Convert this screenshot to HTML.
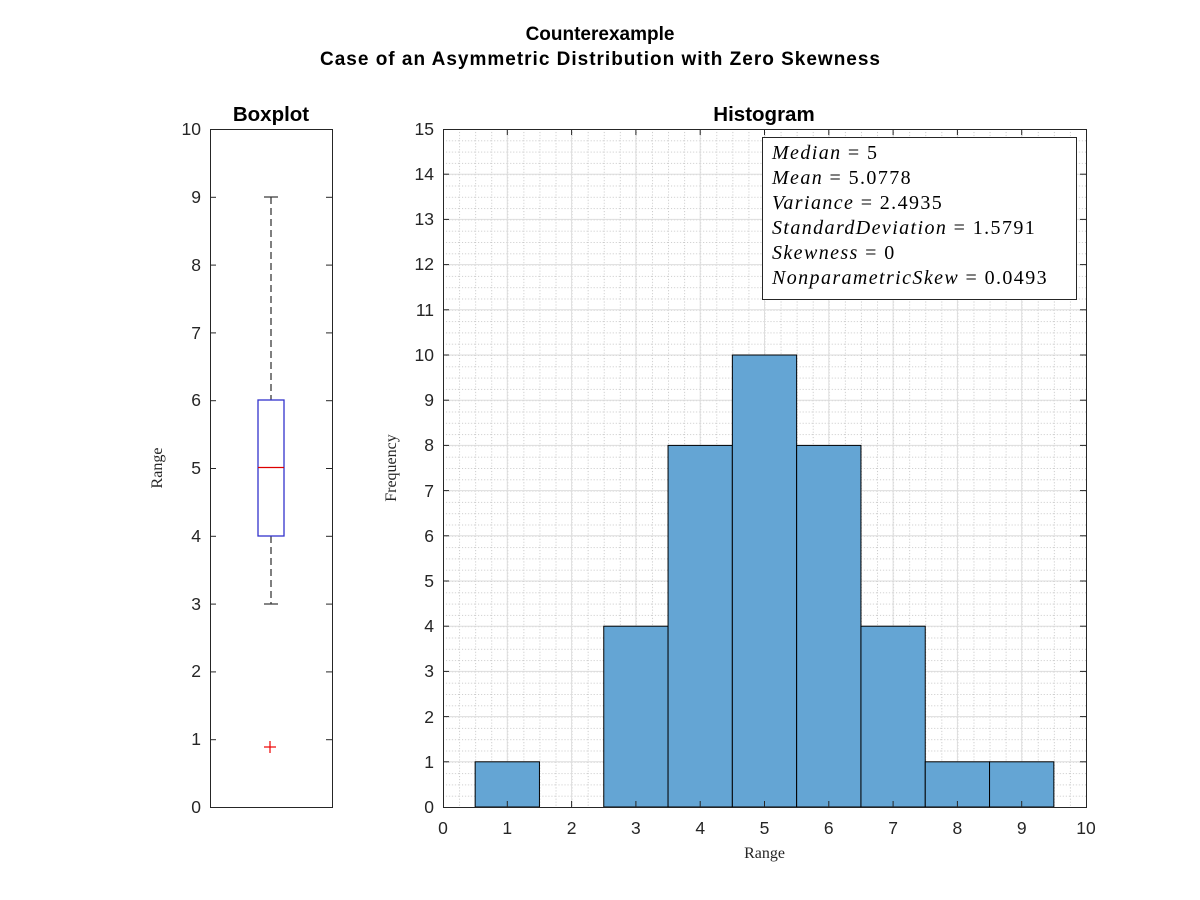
<!DOCTYPE html>
<html><head><meta charset="utf-8"><style>
body{margin:0;background:#fff}
svg{display:block}
.t{font-family:"Liberation Sans",Arial,sans-serif;font-size:17.5px;fill:#262626}
.b{font-family:"Liberation Sans",Arial,sans-serif;font-size:20.5px;font-weight:bold;fill:#000}
.s{font-family:"Liberation Serif","DejaVu Serif",serif;font-size:16px;fill:#262626}
.m{font-family:"Liberation Serif","DejaVu Serif",serif;font-size:20px;fill:#000;letter-spacing:1.4px}
</style></head><body>
<svg width="1200" height="900" xmlns="http://www.w3.org/2000/svg">
<defs>
<pattern id="mg" x="443" y="129" width="16.075" height="11.3" patternUnits="userSpaceOnUse">
<line x1="0.5" y1="0" x2="0.5" y2="11.3" stroke="#c8c8c8" stroke-width="1" stroke-dasharray="1,2"/>
<line x1="0" y1="0.5" x2="16.075" y2="0.5" stroke="#c8c8c8" stroke-width="1" stroke-dasharray="1,2"/>
</pattern>
</defs>
<text class="b" x="600" y="40" text-anchor="middle" style="font-size:19px">Counterexample</text>
<text class="b" x="600" y="65" text-anchor="middle" style="font-size:19px" textLength="560">Case of an Asymmetric Distribution with Zero Skewness</text>

<!-- Boxplot -->
<text class="b" x="271" y="121" text-anchor="middle">Boxplot</text>
<rect x="210.5" y="129.5" width="122" height="678" fill="#fff" stroke="#262626"/>
<g stroke="#262626">
<line x1="210" y1="129.5" x2="216" y2="129.5"/><line x1="326" y1="129.5" x2="332" y2="129.5"/>
<line x1="210" y1="197.3" x2="216" y2="197.3"/><line x1="326" y1="197.3" x2="332" y2="197.3"/>
<line x1="210" y1="265.1" x2="216" y2="265.1"/><line x1="326" y1="265.1" x2="332" y2="265.1"/>
<line x1="210" y1="332.9" x2="216" y2="332.9"/><line x1="326" y1="332.9" x2="332" y2="332.9"/>
<line x1="210" y1="400.7" x2="216" y2="400.7"/><line x1="326" y1="400.7" x2="332" y2="400.7"/>
<line x1="210" y1="468.5" x2="216" y2="468.5"/><line x1="326" y1="468.5" x2="332" y2="468.5"/>
<line x1="210" y1="536.3" x2="216" y2="536.3"/><line x1="326" y1="536.3" x2="332" y2="536.3"/>
<line x1="210" y1="604.1" x2="216" y2="604.1"/><line x1="326" y1="604.1" x2="332" y2="604.1"/>
<line x1="210" y1="671.9" x2="216" y2="671.9"/><line x1="326" y1="671.9" x2="332" y2="671.9"/>
<line x1="210" y1="739.7" x2="216" y2="739.7"/><line x1="326" y1="739.7" x2="332" y2="739.7"/>
</g>
<g class="t" text-anchor="end">
<text x="201" y="135">10</text><text x="201" y="203">9</text><text x="201" y="271">8</text>
<text x="201" y="339">7</text><text x="201" y="406">6</text><text x="201" y="474">5</text>
<text x="201" y="542">4</text><text x="201" y="610">3</text><text x="201" y="677">2</text>
<text x="201" y="745">1</text><text x="201" y="813">0</text>
</g>
<text class="s" transform="translate(162,468) rotate(-90)" text-anchor="middle">Range</text>
<g stroke="#555" stroke-width="1.5" stroke-dasharray="7,4">
<line x1="271" y1="197" x2="271" y2="400"/><line x1="271" y1="536" x2="271" y2="604"/>
</g>
<g stroke="#333" stroke-width="1.2">
<line x1="264" y1="197" x2="278" y2="197"/><line x1="264" y1="604" x2="278" y2="604"/>
</g>
<rect x="258" y="400" width="26" height="136" fill="none" stroke="#3333cc" stroke-width="1.3"/>
<line x1="258" y1="467.5" x2="284" y2="467.5" stroke="#d00" stroke-width="1.3"/>
<g stroke="#e00" stroke-width="1.2"><line x1="264" y1="747" x2="276" y2="747"/><line x1="270" y1="741" x2="270" y2="753"/></g>

<!-- Histogram -->
<text class="b" x="764" y="121" text-anchor="middle">Histogram</text>
<rect x="443" y="129" width="643" height="678" fill="url(#mg)"/>
<g stroke="#dedede" stroke-width="1">
<line x1="507.3" y1="129" x2="507.3" y2="807"/><line x1="571.6" y1="129" x2="571.6" y2="807"/>
<line x1="635.9" y1="129" x2="635.9" y2="807"/><line x1="700.2" y1="129" x2="700.2" y2="807"/>
<line x1="764.5" y1="129" x2="764.5" y2="807"/><line x1="828.8" y1="129" x2="828.8" y2="807"/>
<line x1="893.1" y1="129" x2="893.1" y2="807"/><line x1="957.4" y1="129" x2="957.4" y2="807"/>
<line x1="1021.7" y1="129" x2="1021.7" y2="807"/>
<line x1="443" y1="174.2" x2="1086" y2="174.2"/><line x1="443" y1="219.4" x2="1086" y2="219.4"/>
<line x1="443" y1="264.6" x2="1086" y2="264.6"/><line x1="443" y1="309.8" x2="1086" y2="309.8"/>
<line x1="443" y1="355" x2="1086" y2="355"/><line x1="443" y1="400.2" x2="1086" y2="400.2"/>
<line x1="443" y1="445.4" x2="1086" y2="445.4"/><line x1="443" y1="490.6" x2="1086" y2="490.6"/>
<line x1="443" y1="535.8" x2="1086" y2="535.8"/><line x1="443" y1="581" x2="1086" y2="581"/>
<line x1="443" y1="626.2" x2="1086" y2="626.2"/><line x1="443" y1="671.4" x2="1086" y2="671.4"/>
<line x1="443" y1="716.6" x2="1086" y2="716.6"/><line x1="443" y1="761.8" x2="1086" y2="761.8"/>
</g>
<g fill="#64a5d4" stroke="#000" stroke-width="1">
<rect x="475.15" y="761.8" width="64.3" height="45.2"/>
<rect x="603.75" y="626.2" width="64.3" height="180.8"/>
<rect x="668.05" y="445.4" width="64.3" height="361.6"/>
<rect x="732.35" y="355" width="64.3" height="452"/>
<rect x="796.65" y="445.4" width="64.3" height="361.6"/>
<rect x="860.95" y="626.2" width="64.3" height="180.8"/>
<rect x="925.25" y="761.8" width="64.3" height="45.2"/>
<rect x="989.55" y="761.8" width="64.3" height="45.2"/>
</g>
<rect x="443.5" y="129.5" width="643" height="678" fill="none" stroke="#262626"/>
<g stroke="#262626">
<line x1="507.3" y1="807" x2="507.3" y2="801"/><line x1="507.3" y1="129" x2="507.3" y2="135"/>
<line x1="571.6" y1="807" x2="571.6" y2="801"/><line x1="571.6" y1="129" x2="571.6" y2="135"/>
<line x1="635.9" y1="807" x2="635.9" y2="801"/><line x1="635.9" y1="129" x2="635.9" y2="135"/>
<line x1="700.2" y1="807" x2="700.2" y2="801"/><line x1="700.2" y1="129" x2="700.2" y2="135"/>
<line x1="764.5" y1="807" x2="764.5" y2="801"/><line x1="764.5" y1="129" x2="764.5" y2="135"/>
<line x1="828.8" y1="807" x2="828.8" y2="801"/><line x1="828.8" y1="129" x2="828.8" y2="135"/>
<line x1="893.1" y1="807" x2="893.1" y2="801"/><line x1="893.1" y1="129" x2="893.1" y2="135"/>
<line x1="957.4" y1="807" x2="957.4" y2="801"/><line x1="957.4" y1="129" x2="957.4" y2="135"/>
<line x1="1021.7" y1="807" x2="1021.7" y2="801"/><line x1="1021.7" y1="129" x2="1021.7" y2="135"/>
<line x1="443" y1="174.2" x2="449" y2="174.2"/><line x1="1080" y1="174.2" x2="1086" y2="174.2"/>
<line x1="443" y1="219.4" x2="449" y2="219.4"/><line x1="1080" y1="219.4" x2="1086" y2="219.4"/>
<line x1="443" y1="264.6" x2="449" y2="264.6"/><line x1="1080" y1="264.6" x2="1086" y2="264.6"/>
<line x1="443" y1="309.8" x2="449" y2="309.8"/><line x1="1080" y1="309.8" x2="1086" y2="309.8"/>
<line x1="443" y1="355" x2="449" y2="355"/><line x1="1080" y1="355" x2="1086" y2="355"/>
<line x1="443" y1="400.2" x2="449" y2="400.2"/><line x1="1080" y1="400.2" x2="1086" y2="400.2"/>
<line x1="443" y1="445.4" x2="449" y2="445.4"/><line x1="1080" y1="445.4" x2="1086" y2="445.4"/>
<line x1="443" y1="490.6" x2="449" y2="490.6"/><line x1="1080" y1="490.6" x2="1086" y2="490.6"/>
<line x1="443" y1="535.8" x2="449" y2="535.8"/><line x1="1080" y1="535.8" x2="1086" y2="535.8"/>
<line x1="443" y1="581" x2="449" y2="581"/><line x1="1080" y1="581" x2="1086" y2="581"/>
<line x1="443" y1="626.2" x2="449" y2="626.2"/><line x1="1080" y1="626.2" x2="1086" y2="626.2"/>
<line x1="443" y1="671.4" x2="449" y2="671.4"/><line x1="1080" y1="671.4" x2="1086" y2="671.4"/>
<line x1="443" y1="716.6" x2="449" y2="716.6"/><line x1="1080" y1="716.6" x2="1086" y2="716.6"/>
<line x1="443" y1="761.8" x2="449" y2="761.8"/><line x1="1080" y1="761.8" x2="1086" y2="761.8"/>
</g>
<g class="t" text-anchor="end">
<text x="434" y="135">15</text><text x="434" y="180">14</text><text x="434" y="225">13</text>
<text x="434" y="270">12</text><text x="434" y="316">11</text><text x="434" y="361">10</text>
<text x="434" y="406">9</text><text x="434" y="451">8</text><text x="434" y="497">7</text>
<text x="434" y="542">6</text><text x="434" y="587">5</text><text x="434" y="632">4</text>
<text x="434" y="677">3</text><text x="434" y="723">2</text><text x="434" y="768">1</text>
<text x="434" y="813">0</text>
</g>
<g class="t" text-anchor="middle">
<text x="443" y="834">0</text><text x="507.3" y="834">1</text><text x="571.6" y="834">2</text>
<text x="635.9" y="834">3</text><text x="700.2" y="834">4</text><text x="764.5" y="834">5</text>
<text x="828.8" y="834">6</text><text x="893.1" y="834">7</text><text x="957.4" y="834">8</text>
<text x="1021.7" y="834">9</text><text x="1086" y="834">10</text>
</g>
<text class="s" x="764.5" y="858" text-anchor="middle">Range</text>
<text class="s" transform="translate(396,468) rotate(-90)" text-anchor="middle">Frequency</text>

<rect x="762.5" y="137.5" width="314" height="162" fill="#fff" stroke="#262626"/>
<g class="m">
<text x="772" y="159"><tspan font-style="italic">Median</tspan> = 5</text>
<text x="772" y="184"><tspan font-style="italic">Mean</tspan> = 5.0778</text>
<text x="772" y="209"><tspan font-style="italic">Variance</tspan> = 2.4935</text>
<text x="772" y="234"><tspan font-style="italic">StandardDeviation</tspan> = 1.5791</text>
<text x="772" y="259"><tspan font-style="italic">Skewness</tspan> = 0</text>
<text x="772" y="284"><tspan font-style="italic">NonparametricSkew</tspan> = 0.0493</text>
</g>
</svg>
</body></html>
